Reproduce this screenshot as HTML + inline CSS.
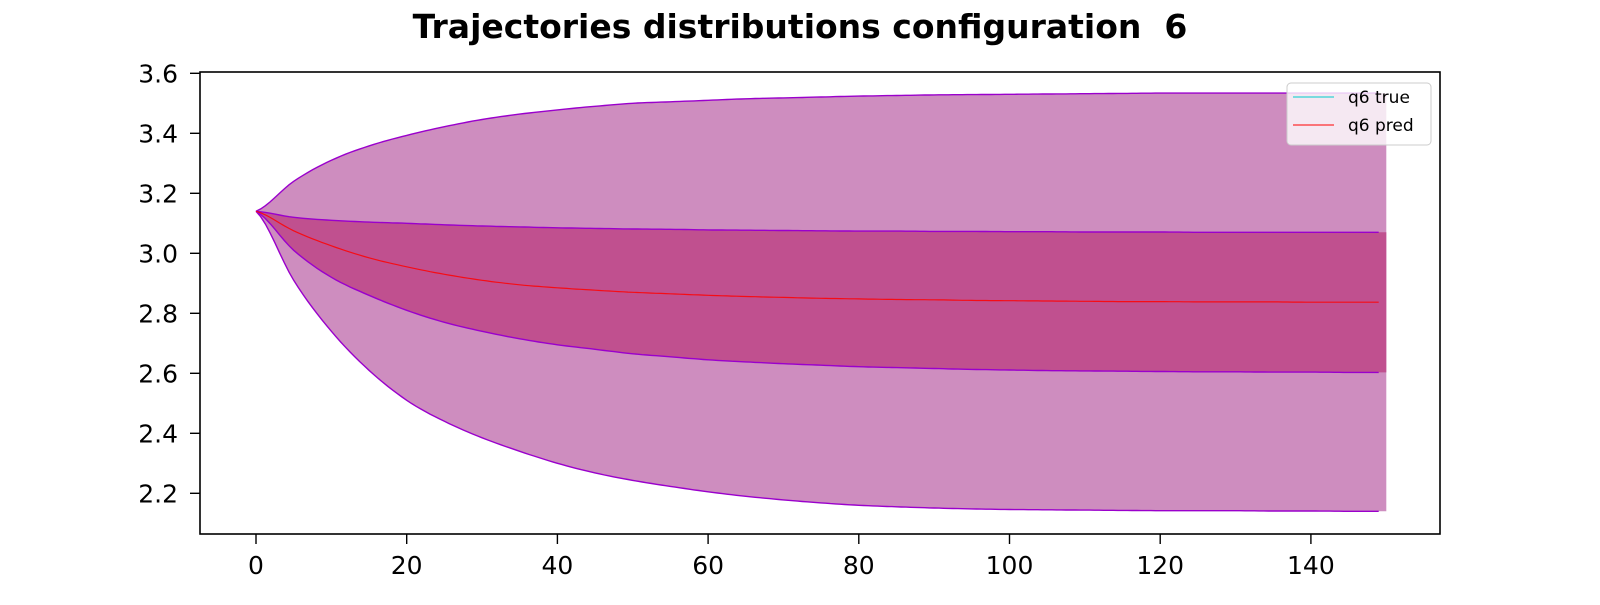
<!DOCTYPE html>
<html><head><meta charset="utf-8"><style>
body{margin:0;background:#fff;font-family:"Liberation Sans","DejaVu Sans",sans-serif}
</style></head><body>
<svg id="chart" width="1600" height="600" xmlns="http://www.w3.org/2000/svg">
<text x="800" y="38" text-anchor="middle" font-size="33" font-weight="bold" font-family="DejaVu Sans, Liberation Sans, sans-serif" xml:space="preserve" style="white-space:pre">Trajectories distributions configuration  6</text>
<g id="plot"></g>
</svg>
<script>
const step = 5;
const outerUpper = [3.14,3.24,3.31,3.358,3.393,3.422,3.446,3.464,3.478,3.49,3.50,3.505,3.51,3.515,3.518,3.521,3.524,3.526,3.528,3.529,3.53,3.531,3.532,3.533,3.534,3.534,3.534,3.534,3.534,3.534,3.534];
const innerUpper = [3.14,3.12,3.11,3.104,3.10,3.095,3.091,3.088,3.085,3.083,3.081,3.08,3.078,3.077,3.076,3.075,3.074,3.074,3.073,3.073,3.072,3.072,3.071,3.071,3.071,3.07,3.07,3.07,3.07,3.07,3.07];
const meanPred = [3.14,3.075,3.025,2.985,2.955,2.93,2.91,2.895,2.885,2.877,2.87,2.865,2.86,2.856,2.853,2.85,2.848,2.846,2.845,2.843,2.842,2.841,2.84,2.839,2.839,2.838,2.838,2.838,2.837,2.837,2.837];
const innerLower = [3.14,3.01,2.92,2.86,2.81,2.77,2.74,2.715,2.695,2.68,2.665,2.655,2.645,2.638,2.632,2.627,2.622,2.619,2.616,2.613,2.611,2.609,2.608,2.607,2.606,2.605,2.605,2.604,2.604,2.603,2.603];
const outerLower = [3.14,2.91,2.74,2.61,2.51,2.44,2.385,2.34,2.30,2.268,2.243,2.223,2.205,2.19,2.178,2.168,2.16,2.155,2.151,2.148,2.146,2.145,2.144,2.143,2.142,2.142,2.142,2.141,2.141,2.14,2.14];
const xTicks = [0,20,40,60,80,100,120,140];
const yTicks = [2.2,2.4,2.6,2.8,3.0,3.2,3.4,3.6];

const L=200,R=1440,T=72,B=534;
const X=v=>256+v*7.535;
const Y=v=>253.3-(v-3.0)*300;
const NS="http://www.w3.org/2000/svg";
const g=document.getElementById('plot');
function mk(t,a){const e=document.createElementNS(NS,t);for(const k in a)e.setAttribute(k,a[k]);g.appendChild(e);return e;}
function pts(arr,xmax){
  const p=[];const n=arr.length;
  for(let i=0;i<n-1;i++){
    const y0=arr[Math.max(i-1,0)],y1=arr[i],y2=arr[i+1],y3=arr[Math.min(i+2,n-1)];
    for(let s=0;s<8;s++){
      const t=s/8,t2=t*t,t3=t2*t;
      const xv=(i+t)*step;
      if(xv>xmax)break;
      const yv=0.5*((2*y1)+(-y0+y2)*t+(2*y0-5*y1+4*y2-y3)*t2+(-y0+3*y1-3*y2+y3)*t3);
      p.push([X(xv),Y(yv)]);
    }
  }
  const xl=Math.min(xmax,(n-1)*step);
  p.push([X(xl),Y(arr[n-1])]);
  return p;
}
const str=p=>p.map(q=>q[0].toFixed(1)+','+q[1].toFixed(1)).join(' ');
function band(up,lo,fill,name){
  const a=pts(up,150),b=pts(lo,150).reverse();
  const e=mk('polygon',{points:str(a.concat(b)),fill:fill,stroke:'none'});
  
  
  [up,lo].forEach((arr,i)=>{
    const l=mk('polyline',{points:str(pts(arr,149)),fill:'none',stroke:'#9a00cc','stroke-width':1.4});
    
    
  });
}
band(outerUpper,outerLower,'#ce8dbf','outer-band');
band(innerUpper,innerLower,'#c0508f','inner-band');
const m=mk('polyline',{points:str(pts(meanPred,149)),fill:'none',stroke:'#ff0000','stroke-width':1.2,'stroke-opacity':0.85});


const fr=mk('rect',{x:L,y:T,width:R-L,height:B-T,fill:'none',stroke:'#000','stroke-width':1.6});


xTicks.forEach(v=>{
  mk('line',{x1:X(v),x2:X(v),y1:B,y2:B+10,stroke:'#000','stroke-width':1.4});
  const t=mk('text',{x:X(v),y:B+40,'text-anchor':'middle','font-size':25,'font-family':'DejaVu Sans, Liberation Sans, sans-serif'});
  t.textContent=v;
  
  
});
yTicks.forEach(v=>{
  mk('line',{x1:L-10,x2:L,y1:Y(v),y2:Y(v),stroke:'#000','stroke-width':1.4});
  const t=mk('text',{x:L-22,y:Y(v)+9,'text-anchor':'end','font-size':25,'font-family':'DejaVu Sans, Liberation Sans, sans-serif'});
  t.textContent=v.toFixed(1);
  
  
});
const lg=mk('rect',{x:1287,y:83,width:144,height:62,rx:4,fill:'#fff','fill-opacity':0.8,stroke:'#ccc'});


[['q6 true','#00cccc',97],['q6 pred','#ff0000',125]].forEach(([s,c,y])=>{
  mk('line',{x1:1293,x2:1334,y1:y,y2:y,stroke:c,'stroke-width':1.1});
  const t=mk('text',{x:1348,y:y+6,'font-size':17,'font-family':'DejaVu Sans, Liberation Sans, sans-serif'});
  t.textContent=s;
  
  
});
</script>
</body></html>
